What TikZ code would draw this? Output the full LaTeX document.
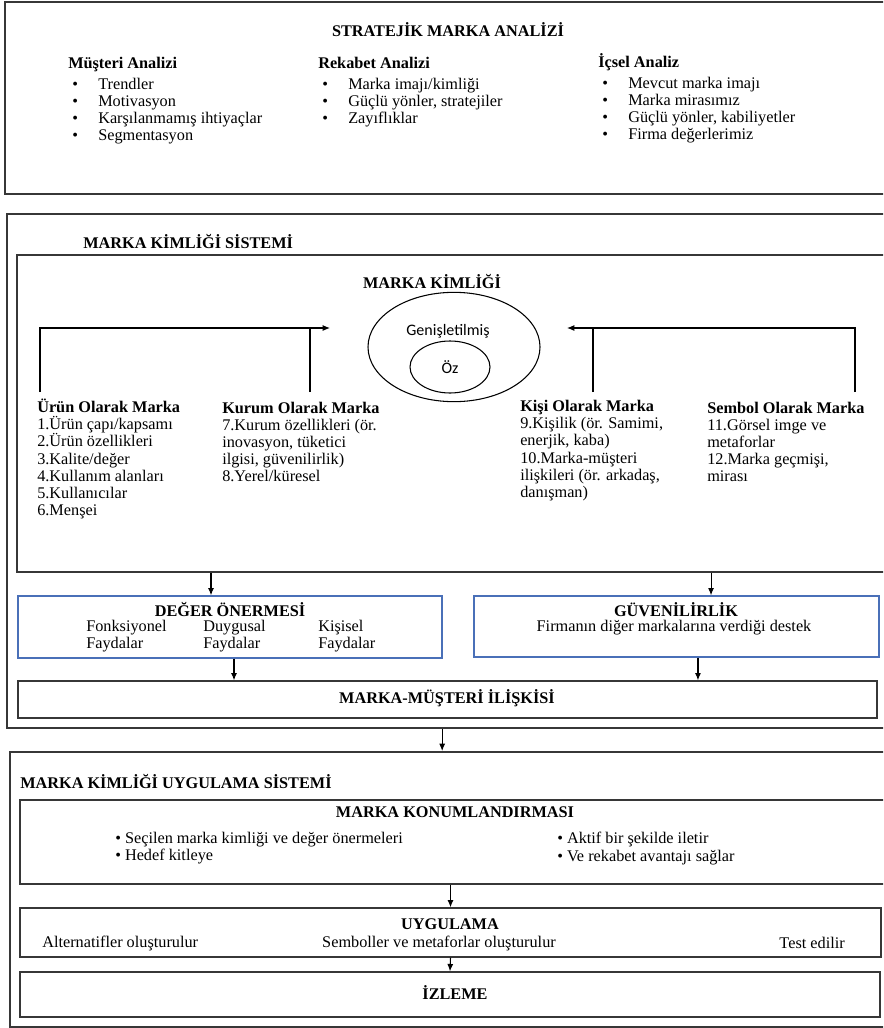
\documentclass[tikz,border=0pt]{standalone}
\usepackage{fontspec}
\setmainfont{Liberation Serif}
\newfontfamily\calibri{Carlito}
\usetikzlibrary{arrows.meta,fit,shapes.geometric}
\definecolor{frameclr}{RGB}{55,55,55}
\definecolor{boxblue}{RGB}{74,112,184}
\newcommand{\dfont}{\fontsize{12.2}{12.9}\selectfont}
\newcommand{\blt}{\hspace*{3pt}\makebox[19.5pt][l]{\textbullet}}

\begin{document}
\begin{tikzpicture}[
  x=0.75pt, y=-0.75pt, % pixel grid of the page
  font=\dfont,
  >={Latex[length=5.5pt,width=4.5pt]},
  outer/.style  ={draw=frameclr,line width=1.4pt,inner sep=0pt},
  box/.style    ={draw=frameclr,line width=1pt,inner sep=0pt},
  bluebox/.style={draw=boxblue,line width=1pt,inner sep=0pt},
  ttl/.style    ={inner sep=0pt,font=\dfont\bfseries},
  lst/.style    ={inner sep=0pt,align=left,anchor=west},
  oval/.style   ={draw,ellipse,line width=0.8pt,inner sep=0pt,font=\calibri\fontsize{12}{14}\selectfont},
  arrow/.style  ={->,line width=0.8pt},
  link/.style   ={line width=0.8pt}
]
\clip (0,0) rectangle (883,1028);
\fill[white] (0,0) rectangle (883,1028);

% ==================================================
% STRATEJIK MARKA ANALIZI
% ==================================================
\node[outer, fit={(5,2) (960,194)}] (analiz) {};
\node[ttl] (analizttl) at (448,30) {STRATEJİK MARKA ANALİZİ};

\node[lst] (musteri) at (68,101)
  {\textbf{Müşteri Analizi}\\[2.5pt] \blt Trendler\\ \blt Motivasyon\\ \blt Karşılanmamış ihtiyaçlar\\ \blt Segmentasyon};
\node[lst] (rekabet) at (318,92.5)
  {\textbf{Rekabet Analizi}\\[2.5pt] \blt Marka imajı/kimliği\\ \blt Güçlü yönler, stratejiler\\ \blt Zayıflıklar};
\node[lst] (icsel) at (598,98.5)
  {\textbf{İçsel Analiz}\\[2.5pt] \blt Mevcut marka imajı\\ \blt Marka mirasımız\\ \blt Güçlü yönler, kabiliyetler\\ \blt Firma değerlerimiz};

% ==================================================
% MARKA KIMLIGI SISTEMI
% ==================================================
\node[outer, fit={(7,214) (960,728)}] (sistem) {};
\node[ttl, anchor=west] (sistemttl) at (83,242) {MARKA KİMLİĞİ SİSTEMİ};

\node[box, fit={(17,255) (960,572)}] (kimlik) {};
\node[ttl] (kimlikttl) at (432,282) {MARKA KİMLİĞİ};

% core / extended identity
\node[oval, minimum width=129pt, minimum height=82pt] (genis) at (454,347) {};
\node[inner sep=0pt, font=\calibri\fontsize{12}{14}\selectfont] (genislbl) at (448,331) {Genişletilmiş};
\node[oval, minimum width=60pt, minimum height=39pt] (oz) at (450,367) {Öz};

% four perspectives
\node[lst] (urun) at (37,459)
  {\textbf{Ürün Olarak Marka}\\1.Ürün çapı/kapsamı\\2.Ürün özellikleri\\3.Kalite/değer\\4.Kullanım alanları\\5.Kullanıcılar\\6.Menşei};
\node[lst] (kurum) at (222,442)
  {\textbf{Kurum Olarak Marka}\\7.Kurum özellikleri (ör.\\inovasyon, tüketici\\ilgisi, güvenilirlik)\\8.Yerel/küresel};
\node[lst] (kisi) at (520,450.5)
  {\textbf{Kişi Olarak Marka}\\9.Kişilik (ör. Samimi,\\enerjik, kaba)\\10.Marka-müşteri\\ilişkileri (ör. arkadaş,\\danışman)};
\node[lst] (sembol) at (707,442)
  {\textbf{Sembol Olarak Marka}\\11.Görsel imge ve\\metaforlar\\12.Marka geçmişi,\\mirası};

% feed lines into the identity
\coordinate (urunTop)   at (40,392);
\coordinate (kurumTop)  at (310,392);
\coordinate (leftTip)   at (330,328);
\coordinate (kisiTop)   at (593,392);
\coordinate (sembolTop) at (855,392);
\coordinate (rightTip)  at (567,328);
\draw[arrow] (urunTop) |- (leftTip);
\draw[link]  (kurumTop) -- (kurumTop |- leftTip);
\draw[arrow] (sembolTop) |- (rightTip);
\draw[link]  (kisiTop) -- (kisiTop |- rightTip);

% value proposition / credibility
\node[bluebox, fit={(18,596) (442,658)}] (deger) {};
\node[ttl] (degerttl) at (230,610) {DEĞER ÖNERMESİ};
\node[lst] (fonk)   at (86,636.5)  {Fonksiyonel\\Faydalar};
\node[lst] (duygu)  at (203,636.5) {Duygusal\\Faydalar};
\node[lst] (kisel)  at (318,636.5) {Kişisel\\Faydalar};

\node[bluebox, fit={(474,596) (879,657)}] (guven) {};
\node[ttl] (guventtl) at (676,610) {GÜVENİLİRLİK};
\node[inner sep=0pt] (destek) at (674,628) {Firmanın diğer markalarına verdiği destek};

\node[box, fit={(18,681) (877,718)}] (iliski) {};
\node[ttl] (iliskittl) at (447,698) {MARKA-MÜŞTERİ İLİŞKİSİ};

\draw[arrow] ([xshift=-14.25pt]deger.north |- kimlik.south) -- ([xshift=-14.25pt]deger.north);
\draw[arrow] ([xshift=25.9pt]guven.north |- kimlik.south) -- ([xshift=25.9pt]guven.north);
\draw[arrow] ([xshift=3pt]deger.south) -- ([xshift=3pt]deger.south |- iliski.north);
\draw[arrow] ([xshift=16.1pt]guven.south) -- ([xshift=16.1pt]guven.south |- iliski.north);

% ==================================================
% MARKA KIMLIGI UYGULAMA SISTEMI
% ==================================================
\node[outer, fit={(10,752) (960,1027)}] (uygsis) {};
\node[ttl, anchor=west] (uygsisttl) at (20,782) {MARKA KİMLİĞİ UYGULAMA SİSTEMİ};

\draw[arrow] ([xshift=-4pt]iliski.south |- sistem.south) -- ([xshift=-4pt]iliski.south |- uygsis.north);

\node[box, fit={(20,800) (960,884)}] (konum) {};
\node[ttl] (konumttl) at (455,812) {MARKA KONUMLANDIRMASI};
\node[lst] (konumsol) at (115,848.5) {\textbullet\ Seçilen marka kimliği ve değer önermeleri\\\textbullet\ Hedef kitleye};
\node[lst] (konumsag) at (557,848.5) {\textbullet\ Aktif bir şekilde iletir\\\textbullet\ Ve rekabet avantajı sağlar};

\node[box, fit={(20,908) (881,957)}] (uyg) {};
\node[ttl] (uygttl) at (450,924) {UYGULAMA};
\node[lst] (alt)  at (42,943) {Alternatifler oluşturulur};
\node[inner sep=0pt] (semb) at (439,943) {Semboller ve metaforlar oluşturulur};
\node[inner sep=0pt, anchor=east] (test) at (845,943) {Test edilir};

\node[box, fit={(20,972) (880,1017)}] (izleme) {};
\node[ttl] (izlemettl) at (455,993) {İZLEME};

\draw[arrow] (uyg.north |- konum.south) -- (uyg.north);
\draw[arrow] (uyg.south) -- (izleme.north);

\end{tikzpicture}
\end{document}
